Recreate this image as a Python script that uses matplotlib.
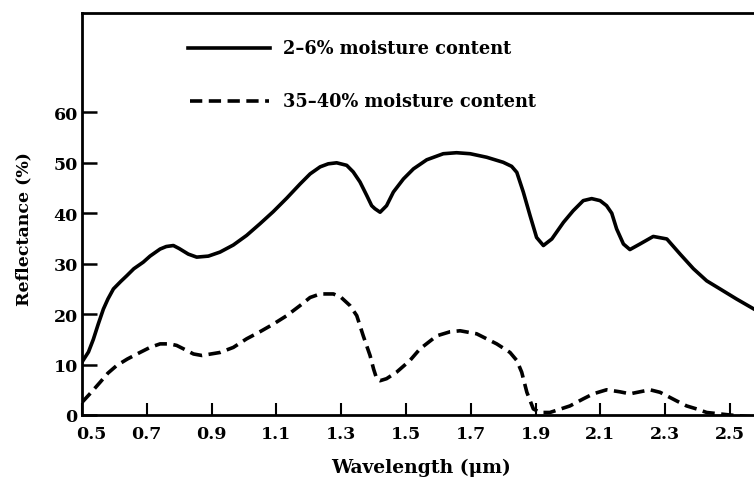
import matplotlib
matplotlib.use("Agg")
import matplotlib.pyplot as plt
import matplotlib.transforms as mtransforms

# Reflectance spectra
wl_dry = [0.50, 0.52, 0.535, 0.55, 0.566, 0.58, 0.597, 0.62, 0.638, 0.66, 0.689, 0.71,
          0.741, 0.76, 0.782, 0.80, 0.828, 0.854, 0.89, 0.926, 0.967, 1.008, 1.049,
          1.09, 1.132, 1.173, 1.204, 1.235, 1.26, 1.286, 1.317, 1.337, 1.358, 1.379,
          1.394, 1.404, 1.42, 1.44, 1.461, 1.492, 1.523, 1.564, 1.615, 1.656, 1.698,
          1.749, 1.80, 1.826, 1.842, 1.862, 1.883, 1.903, 1.924, 1.95, 1.986, 2.016,
          2.047, 2.073, 2.099, 2.119, 2.135, 2.15, 2.171, 2.191, 2.222, 2.263, 2.305,
          2.346, 2.387, 2.428, 2.469, 2.52, 2.574]
refl_dry = [10.5, 12.5, 15, 18, 21, 23, 25, 26.5, 27.6, 29, 30.3, 31.5,
            32.9, 33.4, 33.6, 33.0, 31.9, 31.3, 31.5, 32.3, 33.7, 35.6, 37.9,
            40.3, 43, 45.8, 47.8, 49.2, 49.8, 50, 49.5, 48.2, 46.2, 43.5,
            41.5, 40.9, 40.2, 41.5, 44.2, 46.8, 48.8, 50.6, 51.8, 52, 51.8,
            51.1, 50.1, 49.3, 48.1, 44.2, 39.5, 35.2, 33.6, 34.9, 38.2, 40.5,
            42.5, 42.9, 42.5, 41.5, 40.0, 36.9, 33.9, 32.8, 33.9, 35.4, 34.9,
            31.9, 29, 26.6, 25, 23, 21]

wl_wet = [0.50, 0.53, 0.556, 0.58, 0.607, 0.64, 0.679, 0.71, 0.741, 0.77, 0.792, 0.82,
          0.844, 0.87, 0.926, 0.967, 1.008, 1.049, 1.09, 1.132, 1.173, 1.204, 1.235,
          1.276, 1.30, 1.327, 1.348, 1.368, 1.389, 1.40, 1.41, 1.42, 1.44, 1.471,
          1.512, 1.543, 1.595, 1.636, 1.667, 1.718, 1.749, 1.78, 1.821, 1.842, 1.857,
          1.873, 1.893, 1.914, 1.944, 2.006, 2.047, 2.078, 2.119, 2.16, 2.191, 2.222,
          2.253, 2.284, 2.305, 2.335, 2.366, 2.397, 2.428, 2.50, 2.574]
refl_wet = [2.5, 4.6, 6.5, 8.3, 9.8, 11.1, 12.4, 13.4, 14.1, 14.1, 13.8, 12.9,
            12.1, 11.8, 12.4, 13.4, 15.1, 16.5, 18, 19.7, 21.7, 23.3, 24,
            24, 23.3, 21.7, 19.7, 15.7, 11.8, 9.1, 7.1, 6.8, 7.2, 8.5,
            10.8, 13.1, 15.7, 16.5, 16.7, 16.1, 15.1, 14.1, 12.4, 10.8, 8.5,
            4.5, 1.2, 0.5, 0.5, 1.8, 3.2, 4.2, 5.0, 4.6, 4.2, 4.6,
            5.0, 4.5, 3.8, 2.8, 1.8, 1.2, 0.5, 0.0, -0.4]

x_ticks = [0.5, 0.7, 0.9, 1.1, 1.3, 1.5, 1.7, 1.9, 2.1, 2.3, 2.5]
y_ticks = [0, 10, 20, 30, 40, 50, 60]

plt.rcParams['font.family'] = ['DejaVu Serif']
plt.rcParams['font.weight'] = 'bold'

fig = plt.figure(figsize=(7.54, 4.89), dpi=100)
ax = fig.add_axes([82 / 754, 73 / 489, 672 / 754, 402 / 489])

dash = (0, (3.4, 1.8))
ax.plot(wl_dry, refl_dry, color='black', lw=2.6, solid_joinstyle='round')
ax.plot(wl_wet, refl_wet, color='black', lw=2.6, linestyle=dash)

ax.set_xlim(0.5, 2.574)
ax.set_ylim(0, 79.7)
ax.set_xticks(x_ticks)
ax.set_xticklabels([f"{v:.1f}" for v in x_ticks])
ax.set_yticks(y_ticks)

for s in ['left', 'bottom', 'top']:
    ax.spines[s].set_linewidth(2.0)
ax.spines['right'].set_visible(False)

ax.tick_params(axis='x', direction='in', length=9, width=1.5, pad=7, labelsize=12.5)
ax.tick_params(axis='y', direction='in', length=11, width=1.8, pad=3, labelsize=12.5)

# first x label sits a little to the right of its tick, clear of the "0"
shift = mtransforms.ScaledTranslation(9 / 100, 0, fig.dpi_scale_trans)
lab0 = ax.get_xticklabels()[0]
lab0.set_transform(lab0.get_transform() + shift)

ax.set_xlabel("Wavelength (\u03bcm)", fontsize=13.5, fontweight='bold')
ax.set_ylabel("Reflectance (%)", fontsize=12.5, fontweight='bold')
ax.xaxis.set_label_coords(0.504, -0.107)
ax.yaxis.set_label_coords(-0.074, 0.465)

# key drawn inside the plot, as in the original
ax.plot([0.827, 1.08], [72.8, 72.8], color='black', lw=2.6)
ax.text(1.12, 72.8, "2\u20136% moisture content", fontsize=12.8, fontweight='bold',
        va='center', ha='left')
ax.plot([0.833, 1.077], [62.3, 62.3], color='black', lw=2.6, linestyle=dash)
ax.text(1.12, 62.3, "35\u201340% moisture content", fontsize=12.8, fontweight='bold',
        va='center', ha='left')

fig.savefig("out.png", dpi=100)
